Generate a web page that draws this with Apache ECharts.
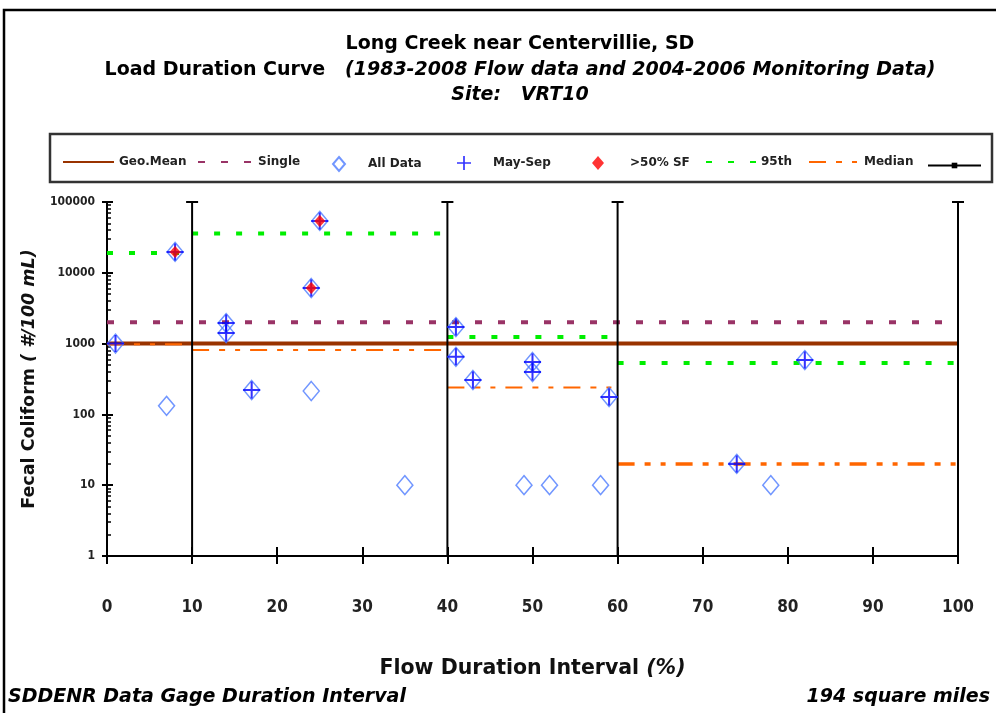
<!DOCTYPE html>
<html>
<head>
<meta charset="utf-8">
<title>Long Creek near Centervillie, SD - Load Duration Curve</title>
<script src="https://cdn.jsdelivr.net/npm/echarts@6/dist/echarts.min.js"></script>
<style>
  html, body { margin: 0; padding: 0; background: #fff; }
  #chart { width: 996px; height: 713px; }
</style>
</head>
<body>
<div id="chart"></div>
<script>
// flow duration zones (%)
const zoneStart = [0, 10, 40, 60]
const zoneEnd = [10, 40, 60, 100]
const zoneP95 = [19000, 36000, 1240, 530]
const zoneMedian = [980, 810, 240, 20]
const zoneBreaks = [10, 40, 60, 100]

// criteria
const geoMean = 1000
const singleSample = 2000

// samples: [flow duration interval %, fecal coliform #/100 mL]
const allData = [
  [1, 1000], [7, 132], [8, 19700], [14, 1950], [14, 1410], [17, 221],
  [24, 6100], [24, 214], [25, 54000], [35, 10], [41, 1710], [41, 650],
  [43, 306], [49, 10], [50, 550], [50, 396], [52, 10], [58, 10],
  [59, 176], [74, 20], [78, 10], [82, 586]
]
const maySep = [
  [1, 1000], [8, 19700], [14, 1950], [14, 1410], [17, 221], [24, 6100],
  [25, 54000], [41, 1710], [41, 650], [43, 306], [50, 550], [50, 396],
  [59, 176], [74, 20], [82, 586]
]
const over50SF = [[8, 19700], [24, 6100], [25, 54000]]

const xMin = 0
const xMax = 100
const xInterval = 10
const yMin = 1
const yMax = 100000

const FONT = '"DejaVu Sans", Verdana, sans-serif'
const COND = '"DejaVu Sans Condensed", "DejaVu Sans", sans-serif'

const series = []
series.push({
  name: 'Geo.Mean', type: 'line', symbol: 'none', z: 3,
  data: [[xMin, geoMean], [xMax, geoMean]],
  lineStyle: { color: '#993300', width: 4 },
  itemStyle: { color: '#993300' }
})
series.push({
  name: 'Single', type: 'line', symbol: 'none',
  data: [[xMin, singleSample], [xMax, singleSample]],
  lineStyle: { color: '#993366', width: 4, type: [7, 16] },
  itemStyle: { color: '#993366' }
})
zoneStart.forEach((s, i) => {
  series.push({
    name: '95th', type: 'line', symbol: 'none',
    data: [[s, zoneP95[i]], [zoneEnd[i], zoneP95[i]]],
    lineStyle: { color: '#00ee00', width: 4, type: [6, 16] },
    itemStyle: { color: '#00ee00' }
  })
  series.push({
    name: 'Median', type: 'line', symbol: 'none',
    data: [[s, zoneMedian[i]], [zoneEnd[i], zoneMedian[i]]],
    lineStyle: { color: '#ff6600', width: i === 3 ? 3.5 : 2, type: [17, 10, 6, 10, 5, 10] },
    itemStyle: { color: '#ff6600' }
  })
})
// zone dividers
zoneBreaks.forEach(b => {
  series.push({
    name: ' ', type: 'line', symbol: 'rect', symbolSize: [12, 2], showSymbol: true, z: 4,
    data: [{ value: [b, yMin], symbol: 'none' }, [b, yMax]],
    lineStyle: { color: '#000', width: 2 },
    itemStyle: { color: '#000' }
  })
})
series.push({
  name: 'All Data', type: 'scatter', symbol: 'diamond', symbolSize: [16, 19], z: 5,
  data: allData,
  itemStyle: { color: 'rgba(255,255,255,0)', borderColor: '#4d7cff', borderWidth: 1.5 }
})
series.push({
  name: 'May-Sep', type: 'scatter', symbol: 'path://M4.4,0H5.6V10H4.4Z M0,4.4H10V5.6H0Z', symbolSize: 17, z: 6,
  data: maySep,
  itemStyle: { color: '#0000ff' }
})
series.push({
  name: '>50% SF', type: 'scatter', symbol: 'diamond', symbolSize: [11, 12], z: 7,
  data: over50SF,
  itemStyle: { color: '#ff0000' }
})

// one legend per entry so each sits where it does in the original
const legendText = { fontFamily: FONT, fontSize: 12, fontWeight: 'bold', color: '#222' }
function legendAt(name, left, w, opts) {
  opts = opts || {}
  const h = opts.h || 14
  const lg = {
    data: [name], left: left, top: 158 - h / 2, itemWidth: w, itemHeight: h, itemGap: 0,
    selectedMode: false,
    textStyle: { ...legendText, padding: [0, 0, 0, opts.pad || 0] }
  }
  if (opts.hideSymbol) lg.itemStyle = { opacity: 0 }
  return lg
}

const rich = {
  b: { fontFamily: FONT, fontWeight: 'bold', fontSize: 19, color: '#111' },
  bi: { fontFamily: FONT, fontWeight: 'bold', fontStyle: 'italic', fontSize: 19, color: '#111' }
}

const option = {
  animation: false,
  backgroundColor: '#fff',
  grid: { left: 107, right: 38, top: 202, bottom: 157 },
  legend: [
    legendAt('Geo.Mean', 57, 51, { hideSymbol: true }),
    legendAt('Single', 192, 55, { hideSymbol: true }),
    legendAt('All Data', 327, 12, { pad: 18 }),
    legendAt('May-Sep', 452, 14, { pad: 17 }),
    legendAt('>50% SF', 587, 12, { pad: 21 }),
    legendAt('95th', 700, 50, { hideSymbol: true }),
    legendAt('Median', 803, 50, { hideSymbol: true }),
    legendAt(' ', 922, 53, { h: 7 })
  ],
  xAxis: [
    {
      type: 'value', min: xMin, max: xMax, interval: xInterval, position: 'bottom',
      axisLine: { onZero: false, lineStyle: { color: '#000', width: 2 } },
      axisTick: { length: 8, lineStyle: { color: '#000', width: 2 } },
      splitLine: { show: false },
      axisLabel: { margin: 43, fontFamily: COND, fontSize: 17, fontWeight: 'bold', color: '#222' },
      name: '{b|Flow Duration Interval }{bi|(%)}',
      nameLocation: 'middle', nameGap: 102,
      nameTextStyle: { rich: { b: { ...rich.b, fontSize: 20.5 }, bi: { ...rich.bi, fontSize: 20.5 } } }
    },
    {
      type: 'value', min: xMin, max: xMax, interval: xInterval, position: 'bottom',
      axisLine: { show: false },
      axisTick: { inside: true, length: 9, lineStyle: { color: '#000', width: 2 } },
      axisLabel: { show: false },
      splitLine: { show: false }
    }
  ],
  yAxis: [
    {
      type: 'log', logBase: 10, min: yMin, max: yMax, position: 'left',
      axisLine: { onZero: false, lineStyle: { color: '#000', width: 2 } },
      axisTick: { length: 5, lineStyle: { color: '#000', width: 2 } },
      splitLine: { show: false },
      axisLabel: {
        margin: 12, fontFamily: COND, fontSize: 12, fontWeight: 'bold', color: '#222',
        formatter: v => String(Math.round(v))
      },
      name: '{b|Fecal Coliform }{bi|( #/100 mL)}',
      nameLocation: 'middle', nameGap: 69, nameRotate: 90,
      nameTextStyle: { rich: { b: { ...rich.b, fontSize: 17.5 }, bi: { ...rich.bi, fontSize: 17.5 } } }
    },
    {
      type: 'log', logBase: 10, min: yMin, max: yMax, position: 'left',
      axisLine: { show: false },
      axisTick: { inside: true, length: 6, lineStyle: { color: '#000', width: 2 } },
      minorTick: { show: true, splitNumber: 9, length: 4, lineStyle: { color: '#000', width: 1.5 } },
      axisLabel: { show: false },
      splitLine: { show: false },
      minorSplitLine: { show: false }
    }
  ],
  graphic: [
    { type: 'rect', shape: { x: 4, y: 10, width: 1000, height: 720 },
      style: { fill: 'none', stroke: '#000', lineWidth: 2.5 }, silent: true },
    { type: 'rect', shape: { x: 50, y: 134, width: 942, height: 48 },
      style: { fill: 'none', stroke: '#333', lineWidth: 2.5 }, silent: true },
    { type: 'text', x: 520, y: 44,
      style: { text: '{b|Long Creek near Centervillie, SD}', rich: rich, align: 'center', verticalAlign: 'middle' } },
    { type: 'text', x: 520, y: 70,
      style: { text: '{b|Load Duration Curve   }{bi|(1983-2008 Flow data and 2004-2006 Monitoring Data)}', rich: rich, align: 'center', verticalAlign: 'middle' } },
    { type: 'text', x: 520, y: 95,
      style: { text: '{bi|Site:   VRT10}', rich: rich, align: 'center', verticalAlign: 'middle' } },
    { type: 'text', x: 8, y: 697,
      style: { text: '{bi|SDDENR Data Gage Duration Interval}', rich: rich, align: 'left', verticalAlign: 'middle' } },
    { type: 'text', x: 990, y: 697,
      style: { text: '{bi|194 square miles}', rich: rich, align: 'right', verticalAlign: 'middle' } }
  ],
  series: series
}

const chart = echarts.init(document.getElementById('chart'), null, { renderer: 'canvas' })
chart.setOption(option)
</script>
</body>
</html>
